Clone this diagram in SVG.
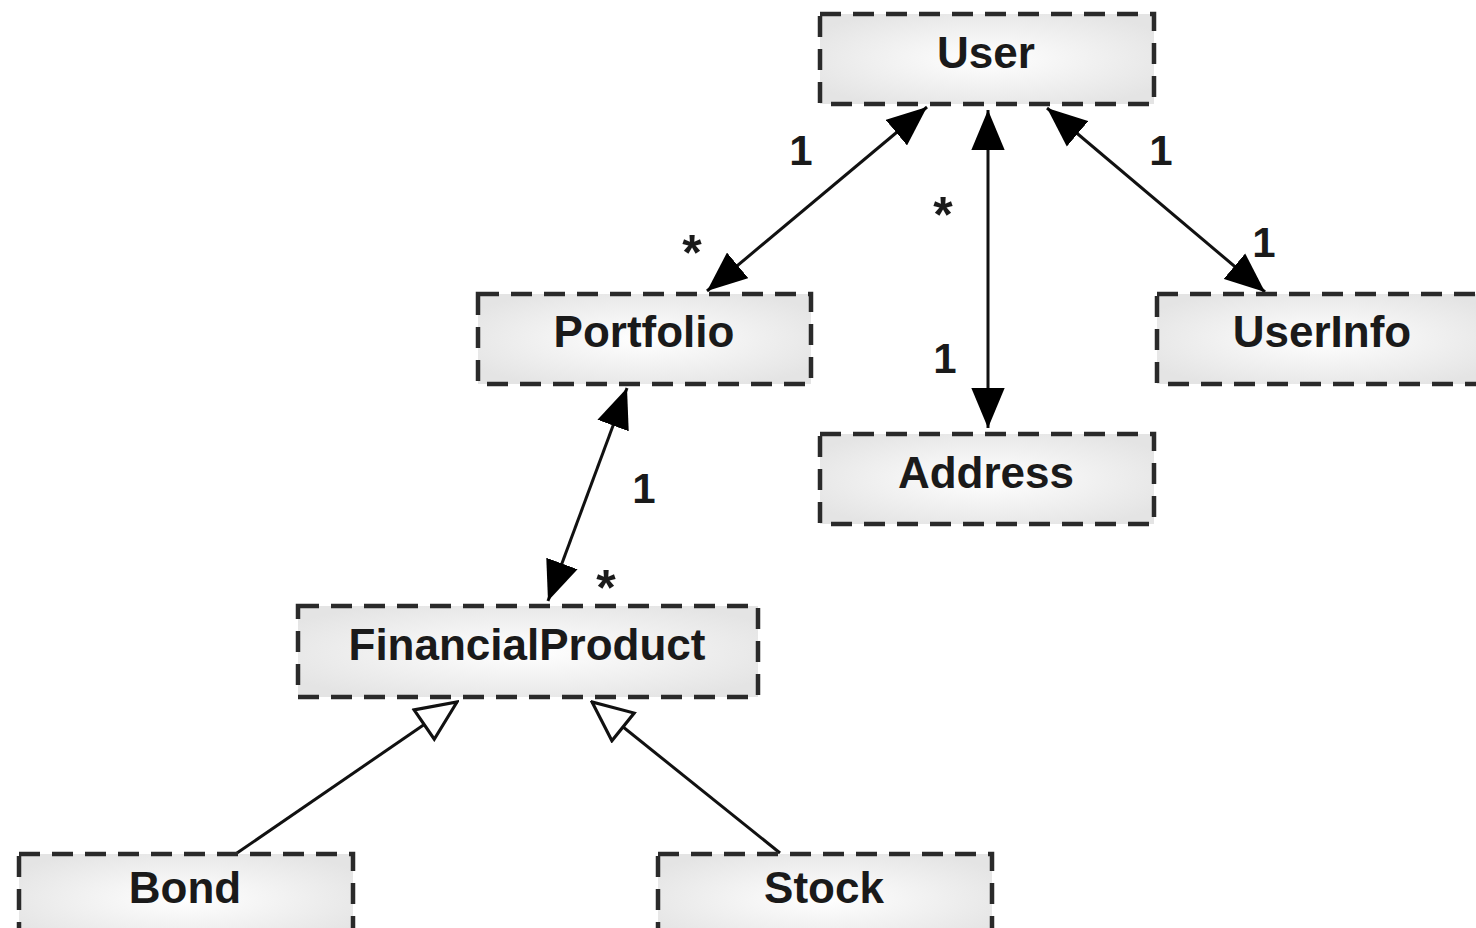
<svg xmlns="http://www.w3.org/2000/svg" width="1476" height="928" viewBox="0 0 1476 928">
<style>
.box{fill:url(#g);stroke:#2a2a2a;stroke-width:4.5;stroke-dasharray:21 12}
.t{font-family:"Liberation Sans",Arial,sans-serif;font-weight:bold;font-size:44px;fill:#1a1a1a;text-anchor:middle}
.lbl{font-family:"Liberation Sans",Arial,sans-serif;font-weight:bold;font-size:42px;fill:#1a1a1a;text-anchor:middle}
.star{font-size:50px}
.c{stroke:#111;stroke-width:3;fill:none}
.assoc{marker-start:url(#fa);marker-end:url(#fa)}
.gen{marker-end:url(#ha)}
</style>
<defs>
<radialGradient id="g" cx="0.5" cy="0.5" r="0.6">
<stop offset="0" stop-color="#ffffff"/>
<stop offset="1" stop-color="#e4e4e4"/>
</radialGradient>
<marker id="fa" markerUnits="userSpaceOnUse" markerWidth="40" markerHeight="34" viewBox="0 0 36 30" refX="36" refY="15" orient="auto-start-reverse">
<path d="M0,0 L36,15 L0,30 Z" fill="#000"/>
</marker>
<marker id="ha" markerUnits="userSpaceOnUse" markerWidth="44" markerHeight="40" viewBox="-2 -2 42 38" refX="38" refY="17" orient="auto">
<path d="M0,0 L38,17 L0,34 Z" fill="#fff" stroke="#111" stroke-width="3" stroke-linejoin="miter"/>
</marker>
</defs>
<g id="connectors">
<line class="c assoc" x1="927" y1="107" x2="707" y2="291"/>
<line class="c assoc" x1="988" y1="110" x2="988" y2="428"/>
<line class="c assoc" x1="1047" y1="108" x2="1265" y2="292"/>
<line class="c assoc" x1="627" y1="388" x2="548" y2="601"/>
<line class="c gen" x1="237" y1="853" x2="457" y2="702"/>
<line class="c gen" x1="780" y1="853" x2="592" y2="702"/>
<text class="lbl" x="801" y="165">1</text>
<text class="lbl star" x="692" y="270">*</text>
<text class="lbl star" x="943" y="232">*</text>
<text class="lbl" x="945" y="373">1</text>
<text class="lbl" x="1161" y="165">1</text>
<text class="lbl" x="1264" y="257">1</text>
<text class="lbl" x="644" y="503">1</text>
<text class="lbl star" x="606" y="605">*</text>
</g>
<g id="User"><rect class="box" x="820" y="14" width="334" height="90"/><text class="t" x="986" y="68">User</text></g>
<g id="Portfolio"><rect class="box" x="478" y="294" width="333" height="90"/><text class="t" x="644" y="347">Portfolio</text></g>
<g id="UserInfo"><rect class="box" x="1157" y="294" width="334" height="90"/><text class="t" x="1322" y="347">UserInfo</text></g>
<g id="Address"><rect class="box" x="820" y="434" width="334" height="90"/><text class="t" x="986" y="488">Address</text></g>
<g id="FinancialProduct"><rect class="box" x="298" y="606" width="460" height="91"/><text class="t" x="527" y="660">FinancialProduct</text></g>
<g id="Bond"><rect class="box" x="19" y="854" width="334" height="90"/><text class="t" x="185" y="903">Bond</text></g>
<g id="Stock"><rect class="box" x="658" y="854" width="334" height="90"/><text class="t" x="824" y="903">Stock</text></g>
</svg>
